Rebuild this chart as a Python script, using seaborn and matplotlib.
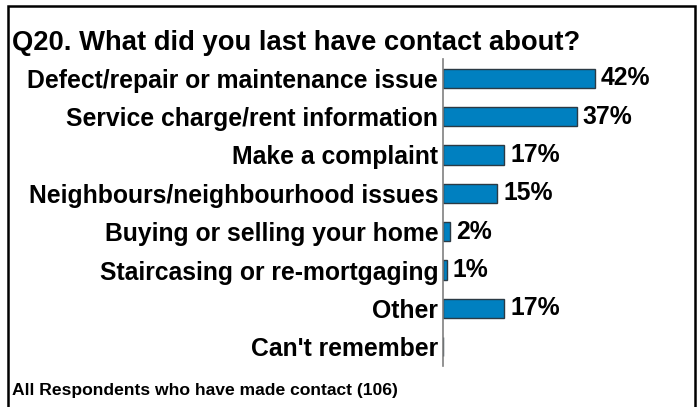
import matplotlib
matplotlib.use("Agg")
import matplotlib.pyplot as plt
import seaborn as sns
import pandas as pd
from matplotlib.patches import Rectangle

categories = [
    "Defect/repair or maintenance issue",
    "Service charge/rent information",
    "Make a complaint",
    "Neighbours/neighbourhood issues",
    "Buying or selling your home",
    "Staircasing or re-mortgaging",
    "Other",
    "Can't remember",
]
values = [42, 37, 17, 15, 2, 1, 17, 0]
value_labels = ["42%", "37%", "17%", "15%", "2%", "1%", "17%", ""]

title = "Q20. What did you last have contact about?"
base_note = "All Respondents who have made contact (106)"

sns.set_theme(style="white")
plt.rcParams["font.family"] = ["Liberation Sans", "DejaVu Sans"]

W, H = 698, 407
fig = plt.figure(figsize=(W / 100, H / 100), dpi=100)

# plot area: left edge is the category axis line
left, right, top, bottom = 443, 660, 59, 366
ax = fig.add_axes([left / W, 1 - bottom / H, (right - left) / W, (bottom - top) / H])

df = pd.DataFrame({"cat": categories, "val": values})
sns.barplot(data=df, x="val", y="cat", orient="h", color="#0080C0",
            edgecolor="#2b3a44", linewidth=1.0, width=0.5, saturation=1, ax=ax)

ax.set_xlim(0, 60)
ax.set_ylim(7.5, -0.5)
ax.set_xlabel("")
ax.set_ylabel("")
ax.set_xticks([])
ax.tick_params(axis="y", length=0, pad=3.5)
for lbl in ax.get_yticklabels():
    lbl.set_fontsize(17.8)
    lbl.set_fontweight("bold")
    lbl.set_color("black")
for s in ["top", "right", "bottom"]:
    ax.spines[s].set_visible(False)
ax.spines["left"].set_color("#808080")
ax.spines["left"].set_linewidth(1.2)

for i, (v, t) in enumerate(zip(values, value_labels)):
    if t:
        ax.text(v + 1.6, i, t, va="center", ha="left", fontsize=17.8,
                fontweight="bold", color="black")

# outer frame
fig.patches.append(Rectangle((8 / W, -0.05), (695 - 8) / W, 1.05 - 6 / H,
                             transform=fig.transFigure, fill=False,
                             edgecolor="black", linewidth=1.8))

fig.text(12 / W, 1 - 43 / H, title, ha="left", va="center", fontsize=19.7,
         fontweight="bold", color="black")
fig.text(12 / W, 1 - 390 / H, base_note, ha="left", va="center", fontsize=12.6,
         fontweight="bold", color="black")

fig.savefig("out.png", dpi=100)
